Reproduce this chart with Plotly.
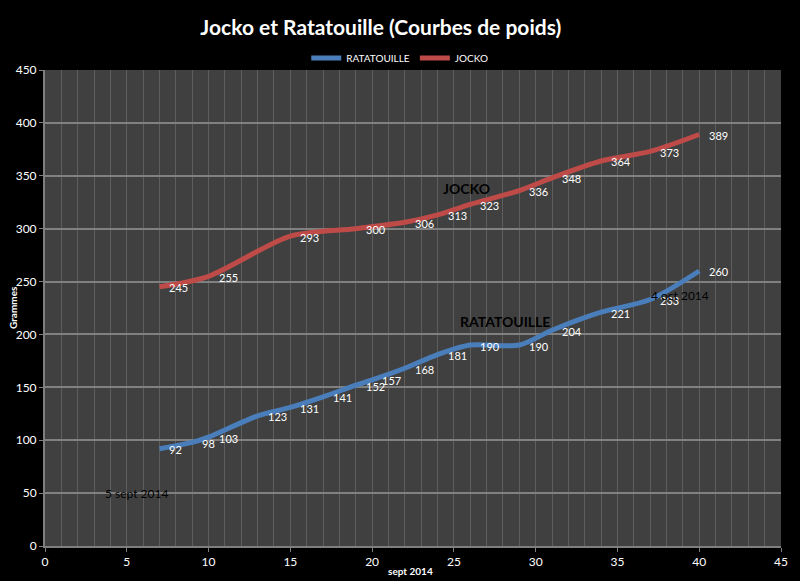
import plotly.graph_objects as go

rat_x = [7, 9, 10, 13, 15, 17, 19, 20, 22, 24, 26, 29, 31, 34, 37, 40]
rat_y = [92, 98, 103, 123, 131, 141, 152, 157, 168, 181, 190, 190, 204, 221, 233, 260]
jok_x = [7, 10, 15, 19, 22, 24, 26, 29, 31, 34, 37, 40]
jok_y = [245, 255, 293, 300, 306, 313, 323, 336, 348, 364, 373, 389]
x_ticks = [0, 5, 10, 15, 20, 25, 30, 35, 40, 45]
y_ticks = [0, 50, 100, 150, 200, 250, 300, 350, 400, 450]

BLUE = "#4A7EBB"
RED = "#BE4B48"
FONT = "Lato"

fig = go.Figure()
fig.add_trace(go.Scatter(x=rat_x, y=rat_y, mode="lines", name="RATATOUILLE",
                         line=dict(color=BLUE, width=5, shape="spline", smoothing=0.8)))
fig.add_trace(go.Scatter(x=jok_x, y=jok_y, mode="lines", name="JOCKO",
                         line=dict(color=RED, width=5, shape="spline", smoothing=0.8)))

ann = []
for xs, ys in ((rat_x, rat_y), (jok_x, jok_y)):
    for xv, yv in zip(xs, ys):
        ann.append(dict(x=xv, y=yv, text=str(yv), showarrow=False, xanchor="left",
                        yanchor="middle", xshift=8, yshift=-1,
                        font=dict(family=FONT, size=11, color="white")))

ann += [
    dict(x=25.8, y=338, text="<b>JOCKO</b>", showarrow=False,
         font=dict(family=FONT, size=14, color="black")),
    dict(x=28.1, y=212, text="<b>RATATOUILLE</b>", showarrow=False,
         font=dict(family=FONT, size=14, color="black")),
    dict(x=5.6, y=50, text="5 sept 2014", showarrow=False,
         font=dict(family=FONT, size=12, color="black")),
    dict(x=38.8, y=237, text="4 oct 2014", showarrow=False,
         font=dict(family=FONT, size=12, color="black")),
    dict(xref="paper", yref="paper", x=0.497, y=0, yshift=-25, text="<b>sept 2014</b>",
         showarrow=False, yanchor="middle", font=dict(family=FONT, size=10, color="white")),
    dict(xref="paper", yref="paper", x=0, xshift=-40, y=0.5, text="<b>Grammes</b>",
         textangle=-90, showarrow=False, font=dict(family=FONT, size=10, color="white")),
]

fig.update_layout(
    width=800, height=581,
    paper_bgcolor="black", plot_bgcolor="#404040",
    margin=dict(l=45, r=14, t=70, b=35),
    title=dict(text="<b>Jocko et Ratatouille (Courbes de poids)</b>", x=0.476, xanchor="center",
               y=0.952, yanchor="middle", font=dict(family=FONT, size=21, color="white")),
    legend=dict(orientation="h", x=0.482, xanchor="center", y=1.025, yanchor="middle",
                font=dict(family=FONT, size=10, color="white"), bgcolor="rgba(0,0,0,0)",
                itemwidth=30),
    showlegend=True,
    annotations=ann,
    font=dict(family=FONT, color="white"),
)
fig.update_xaxes(range=[0, 45], tickvals=x_ticks, showgrid=True, gridcolor="#5E5E5E", gridwidth=1,
                 minor=dict(dtick=1, showgrid=True, gridcolor="#5E5E5E", gridwidth=1),
                 ticks="outside", ticklen=4, tickcolor="#7F7F7F",
                 showline=True, linecolor="#7F7F7F", linewidth=2, zeroline=False,
                 tickfont=dict(family=FONT, size=12, color="white"))
fig.update_yaxes(range=[0, 450], tickvals=y_ticks, showgrid=True, gridcolor="#808080", gridwidth=2,
                 ticks="outside", ticklen=4, tickcolor="#7F7F7F",
                 showline=True, linecolor="#7F7F7F", linewidth=2, zeroline=False,
                 tickfont=dict(family=FONT, size=12, color="white"))

fig.write_html("out.html")
